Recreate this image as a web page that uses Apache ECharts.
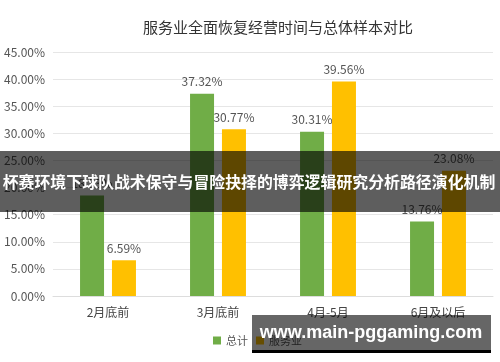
<!DOCTYPE html>
<html><head><meta charset="utf-8">
<script src="https://cdn.jsdelivr.net/npm/echarts@6/dist/echarts.min.js"></script>
<style>html,body{margin:0;padding:0;background:#fff}#c{width:500px;height:362px}</style>
</head><body><div id="c"></div>
<script>
const titleText = '服务业全面恢复经营时间与总体样本对比';
const categories = ['2月底前', '3月底前', '4月-5月', '6月及以后'];
const seriesNames = ['总计', '服务业'];
const totalValues = [18.53, 37.32, 30.31, 13.76];
const serviceValues = [6.59, 30.77, 39.56, 23.08];
const yTicks = [0, 5, 10, 15, 20, 25, 30, 35, 40, 45];
const bannerText = '杯赛环境下球队战术保守与冒险抉择的博弈逻辑研究分析路径演化机制';
const watermarkText = 'www.main-pggaming.com';

const font = '"Noto Sans CJK SC", "Noto Sans", sans-serif';
const chart = echarts.init(document.getElementById('c'), null, {renderer: 'canvas'});
const lbl = {show: true, position: 'top', distance: 6, color: '#555', fontSize: 12, fontFamily: font,
  formatter: p => p.value.toFixed(2) + '%'};
chart.setOption({
  animation: false,
  textStyle: {fontFamily: font},
  title: {text: titleText, left: 273, top: 15, textAlign: 'center',
    textStyle: {fontSize: 15, fontWeight: 'normal', color: '#333', fontFamily: font}},
  legend: {data: seriesNames, left: 208, top: 330, itemWidth: 8, itemHeight: 8, itemGap: 8,
    icon: 'rect', textStyle: {fontSize: 11, color: '#555', fontFamily: font}},
  grid: {left: 53, right: 7, top: 52, bottom: 66, containLabel: false},
  xAxis: {type: 'category', data: categories,
    axisLine: {lineStyle: {color: '#ddd'}}, axisTick: {show: false},
    axisLabel: {color: '#444', fontSize: 12, margin: 10, fontFamily: font}},
  yAxis: {type: 'value', min: yTicks[0], max: yTicks[yTicks.length - 1], interval: 5,
    axisLine: {show: false}, axisTick: {show: false},
    splitLine: {lineStyle: {color: '#e6e6e6'}},
    axisLabel: {color: '#555', fontSize: 12, margin: 8, fontFamily: font,
      formatter: v => v.toFixed(2) + '%'}},
  series: [
    {name: seriesNames[0], type: 'bar', data: totalValues, barWidth: 24, barGap: '33%',
      itemStyle: {color: '#70AD47'}, label: lbl},
    {name: seriesNames[1], type: 'bar', data: serviceValues, barWidth: 24,
      itemStyle: {color: '#FFC000'}, label: lbl}
  ],
  graphic: [
    {type: 'rect', z: 100, shape: {x: 0, y: 151, width: 500, height: 61},
      style: {fill: 'rgba(0,0,0,0.63)'}},
    {type: 'text', z: 101, x: 249, y: 182,
      style: {text: bannerText, fill: '#fff', fontSize: 15.9, fontWeight: 'bold', fontFamily: font,
        textAlign: 'center', textVerticalAlign: 'middle'}},
    {type: 'rect', z: 100, shape: {x: 252, y: 315, width: 239, height: 35},
      style: {fill: 'rgba(0,0,0,0.6)'}},
    {type: 'rect', z: 100, shape: {x: 252, y: 350, width: 239, height: 3},
      style: {fill: '#000'}},
    {type: 'text', z: 101, x: 371, y: 333,
      style: {text: watermarkText, fill: '#fff', fontSize: 18, fontWeight: 'bold', fontFamily: '"Liberation Sans", Arial, sans-serif',
        textAlign: 'center', textVerticalAlign: 'middle'}}
  ]
});
</script></body></html>
